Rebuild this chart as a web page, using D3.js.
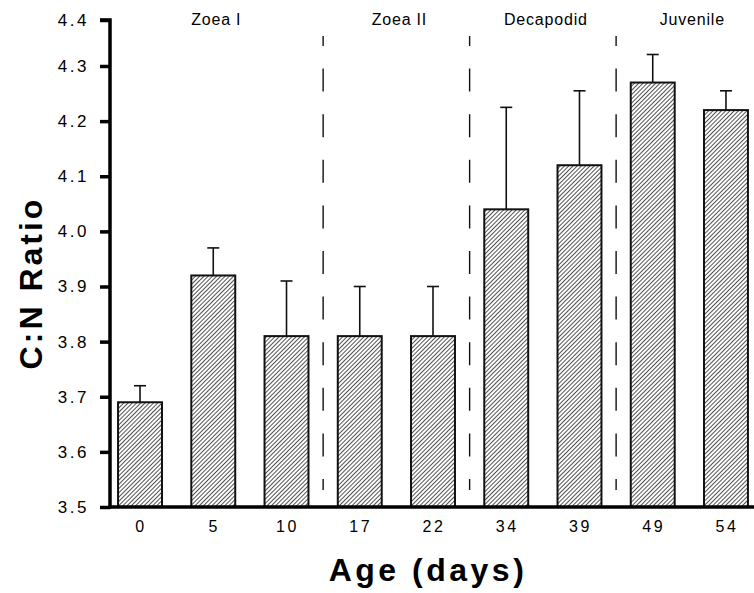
<!DOCTYPE html>
<html>
<head>
<meta charset="utf-8">
<script src="https://cdn.jsdelivr.net/npm/d3@7"></script>
<style>
  body { margin: 0; background: #fff; }
  svg { display: block; font-family: "Liberation Sans", Arial, sans-serif; }
</style>
</head>
<body>
<div class="content"></div>
<script>
// data
var ages = ["0", "5", "10", "17", "22", "34", "39", "49", "54"];
var ratio = [3.69, 3.92, 3.81, 3.81, 3.81, 4.04, 4.12, 4.27, 4.22];
var errUp = [0.03, 0.05, 0.10, 0.09, 0.09, 0.185, 0.135, 0.055, 0.035];
var yTicks = [3.5, 3.6, 3.7, 3.8, 3.9, 4.0, 4.1, 4.2, 4.3, 4.4];
var stageNames = ["Zoea I", "Zoea II", "Decapodid", "Juvenile"];
var stageFirst = ["0", "17", "34", "49"];
var stageLast = ["10", "22", "39", "54"];

var width = 754, height = 593;

var svg = d3.select(".content")
    .append("svg")
    .attr("width", width)
    .attr("height", height);

// hatch fill
var defs = svg.append("defs");
defs.append("pattern")
    .attr("id", "hatch")
    .attr("patternUnits", "userSpaceOnUse")
    .attr("width", 3)
    .attr("height", 3)
    .attr("patternTransform", "rotate(45)")
    .call(function (p) {
        p.append("rect").attr("width", 3).attr("height", 3).attr("fill", "#fff");
        p.append("line")
            .attr("x1", 0.5).attr("y1", 0).attr("x2", 0.5).attr("y2", 3)
            .attr("stroke", "#333").attr("stroke-width", 0.85);
    });

// scales (axis top of this figure is squeezed, hence the extra stop)
var x = d3.scaleBand()
    .domain(ages)
    .range([103.4, 762.6])
    .paddingInner(0.4)
    .paddingOuter(0.2);

var y = d3.scaleLinear()
    .domain([3.5, 4.3, 4.4])
    .range([507, 66, 20]);

var bw = x.bandwidth();
var gap = x.step() - bw;

// dashed stage separators
var sepAfter = stageLast.slice(0, 3);
svg.selectAll(".sep")
    .data(sepAfter)
    .enter()
    .append("line")
    .attr("class", "sep")
    .attr("x1", function (d) { return x(d) + bw + gap / 2; })
    .attr("x2", function (d) { return x(d) + bw + gap / 2; })
    .attr("y1", 36)
    .attr("y2", 490)
    .attr("stroke", "#111")
    .attr("stroke-width", 1.4)
    .attr("stroke-dasharray", "23,22.6")
    .attr("stroke-dashoffset", 13);

// stage labels
svg.selectAll(".stage")
    .data(stageNames)
    .enter()
    .append("text")
    .attr("class", "stage")
    .attr("x", function (d, i) {
        return (x(stageFirst[i]) + x(stageLast[i]) + bw) / 2 + 3;
    })
    .attr("y", 25)
    .attr("text-anchor", "middle")
    .style("font-size", "16px")
    .style("letter-spacing", "0.8px")
    .text(function (d) { return d; });

// error bars (upper only)
var eb = svg.selectAll(".err")
    .data(ratio)
    .enter()
    .append("g")
    .attr("class", "err")
    .attr("stroke", "#111")
    .attr("stroke-width", 1.6);
eb.append("line")
    .attr("x1", function (d, i) { return x(ages[i]) + bw / 2; })
    .attr("x2", function (d, i) { return x(ages[i]) + bw / 2; })
    .attr("y1", function (d) { return y(d); })
    .attr("y2", function (d, i) { return y(d + errUp[i]); });
eb.append("line")
    .attr("x1", function (d, i) { return x(ages[i]) + bw / 2 - 6; })
    .attr("x2", function (d, i) { return x(ages[i]) + bw / 2 + 6; })
    .attr("y1", function (d, i) { return y(d + errUp[i]); })
    .attr("y2", function (d, i) { return y(d + errUp[i]); });

// bars
svg.selectAll(".bar")
    .data(ratio)
    .enter()
    .append("rect")
    .attr("class", "bar")
    .attr("x", function (d, i) { return x(ages[i]); })
    .attr("width", bw)
    .attr("y", function (d) { return y(d); })
    .attr("height", function (d) { return y(3.5) - y(d); })
    .attr("fill", "url(#hatch)")
    .attr("stroke", "#111")
    .attr("stroke-width", 2);

// Y axis
var yAxis = svg.append("g")
    .attr("transform", "translate(110,0)")
    .call(d3.axisLeft(y).tickValues(yTicks).tickSize(10).tickPadding(11)
        .tickFormat(d3.format(".1f")));
yAxis.select(".domain")
    .attr("d", "M-10," + y(4.4) + "H0V" + (y(3.5) + 1.5))
    .attr("stroke-width", 3.5);
yAxis.selectAll(".tick line").attr("stroke-width", 3.5);
yAxis.selectAll(".tick text")
    .style("font-size", "17px")
    .style("letter-spacing", "2.5px")
    .attr("fill", "#000")
    .attr("font-family", null);

// X axis
var xAxis = svg.append("g")
    .attr("transform", "translate(0," + y(3.5) + ")")
    .call(d3.axisBottom(x).tickSize(0).tickPadding(14));
xAxis.select(".domain")
    .attr("d", "M108.5,0H754")
    .attr("stroke-width", 3.5);
xAxis.selectAll(".tick text")
    .style("font-size", "16px")
    .style("letter-spacing", "2.5px")
    .attr("dx", "1px")
    .attr("fill", "#000")
    .attr("font-family", null);

// axis titles
svg.append("text")
    .attr("x", 428)
    .attr("y", 581)
    .attr("text-anchor", "middle")
    .style("font-size", "32px")
    .style("font-weight", "bold")
    .style("letter-spacing", "3.5px")
    .text("Age (days)");

svg.append("text")
    .attr("transform", "translate(42,283) rotate(-90)")
    .attr("text-anchor", "middle")
    .style("font-size", "32px")
    .style("font-weight", "bold")
    .style("letter-spacing", "3px")
    .text("C:N Ratio");
</script>
</body>
</html>
